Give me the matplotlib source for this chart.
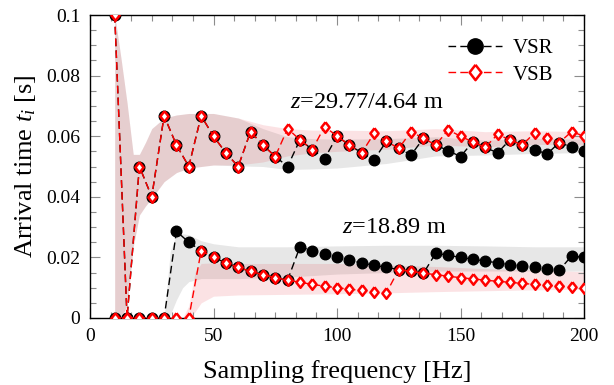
import matplotlib
matplotlib.use("Agg")
import matplotlib.pyplot as plt
import numpy as np
from matplotlib.ticker import MultipleLocator, FixedLocator

plt.rcParams['font.family'] = ['Liberation Serif', 'DejaVu Serif']
plt.rcParams['mathtext.fontset'] = 'custom'
plt.rcParams['mathtext.rm'] = 'Liberation Serif'
plt.rcParams['mathtext.it'] = 'Liberation Serif:italic'

# ---------------- data ----------------
freq = [10, 15, 20, 25, 30, 35, 40, 45, 50, 55, 60, 65, 70, 75, 80, 85, 90, 95, 100,
        105, 110, 115, 120, 125, 130, 135, 140, 145, 150, 155, 160, 165, 170, 175,
        180, 185, 190, 195, 200]

# upper group  (z = 29.77 / 4.64 m)
vsr_up = [0.1, 0.0, 0.05, 0.04, 0.0667, 0.0571, 0.05, 0.0667, 0.06, 0.0545, 0.05,
          0.0615, 0.0571, 0.0533, 0.05, 0.0588, 0.0556, 0.0526, 0.06, 0.0571, 0.0545,
          0.0522, 0.0583, 0.056, 0.0538, 0.0593, 0.0571, 0.0552, 0.0533, 0.0581,
          0.0563, 0.0545, 0.0588, 0.0571, 0.0556, 0.0541, 0.0579, 0.0564, 0.055]
vsb_up = [0.1, 0.0, 0.05, 0.04, 0.0667, 0.0571, 0.05, 0.0667, 0.06, 0.0545, 0.05,
          0.0615, 0.0571, 0.0533, 0.0625, 0.0588, 0.0556, 0.0632, 0.06, 0.0571, 0.0545,
          0.0609, 0.0583, 0.056, 0.0615, 0.0593, 0.0571, 0.0621, 0.06, 0.0581,
          0.0563, 0.0606, 0.0588, 0.0571, 0.0611, 0.0595, 0.0579, 0.0615, 0.06]

# lower group  (z = 18.89 m)
vsr_lo = [0.0, 0.0, 0.0, 0.0, 0.0, 0.0286, 0.025, 0.0222, 0.02, 0.0182, 0.0167,
          0.0154, 0.0143, 0.0133, 0.0125, 0.0235, 0.0222, 0.0211, 0.02, 0.019, 0.0182,
          0.0174, 0.0167, 0.016, 0.0154, 0.0148, 0.0214, 0.0207, 0.02, 0.0194,
          0.0188, 0.0182, 0.0176, 0.0171, 0.0167, 0.0162, 0.0158, 0.0205, 0.02]
vsb_lo = [0.0, 0.0, 0.0, 0.0, 0.0, 0.0, 0.0, 0.0222, 0.02, 0.0182, 0.0167,
          0.0154, 0.0143, 0.0133, 0.0125, 0.0118, 0.0111, 0.0105, 0.01, 0.0095, 0.0091,
          0.0087, 0.0083, 0.016, 0.0154, 0.0148, 0.0143, 0.0138, 0.0133, 0.0129,
          0.0125, 0.0121, 0.0118, 0.0114, 0.0111, 0.0108, 0.0105, 0.0103, 0.01]

# shaded bands
band_f = [10, 12.5, 15, 17.5, 20, 22.5, 25, 30, 35, 40, 50, 60, 70, 80, 90, 100,
          120, 140, 160, 180, 200]
vsb_up_hi = [0.1, 0.086, 0.071, 0.054, 0.054, 0.058, 0.0625, 0.066, 0.067, 0.0675,
             0.0675, 0.066, 0.0638, 0.0625, 0.062, 0.062, 0.0618, 0.0625, 0.0615,
             0.0618, 0.0615]
vsb_up_lo = [0.0, 0.0, 0.004, 0.0235, 0.034, 0.037, 0.0395, 0.045, 0.048, 0.0495,
             0.0505, 0.0505, 0.0515, 0.0535, 0.0545, 0.055, 0.0557, 0.0571, 0.0565,
             0.0573, 0.0571]
vsr_up_hi = [0.1, 0.086, 0.071, 0.054, 0.054, 0.058, 0.0625, 0.066, 0.067, 0.0675,
             0.0675, 0.066, 0.0625, 0.0598, 0.0592, 0.059, 0.0592, 0.0598, 0.0587,
             0.0593, 0.059]
vsr_up_lo = [0.0, 0.0, 0.004, 0.0235, 0.034, 0.037, 0.0395, 0.045, 0.048, 0.0495,
             0.0505, 0.0502, 0.05, 0.049, 0.0492, 0.0495, 0.051, 0.0535, 0.0538,
             0.0543, 0.0546]

band_f_lo = [30, 32.5, 35, 37.5, 40, 42.5, 45, 50, 60, 80, 100, 120, 140, 160, 180, 200]
vsr_lo_hi = [0.0, 0.022, 0.0275, 0.0278, 0.0275, 0.0265, 0.0255, 0.0245, 0.0235,
             0.0235, 0.0238, 0.024, 0.024, 0.0238, 0.0235, 0.0235]
vsr_lo_lo = [0.0, 0.001, 0.006, 0.010, 0.012, 0.0125, 0.013, 0.013, 0.013, 0.0135,
             0.0145, 0.015, 0.0155, 0.0155, 0.0155, 0.0155]
vsb_lo_hi = [0.0, 0.0, 0.0, 0.0, 0.004, 0.015, 0.018, 0.0182, 0.018, 0.018, 0.018,
             0.0175, 0.017, 0.0163, 0.0158, 0.0153]
vsb_lo_lo = [0.0, 0.0, 0.0, 0.0, 0.0, 0.002, 0.005, 0.0072, 0.0076, 0.0078, 0.008,
             0.0083, 0.0087, 0.009, 0.0093, 0.0095]

xticks = [0, 50, 100, 150, 200]
yticks = [0, 0.02, 0.04, 0.06, 0.08, 0.1]
ytick_labels = ['0', '0.02', '0.04', '0.06', '0.08', '0.1']
series_labels = ['VSR', 'VSB']
annot_up = '$z$=29.77/4.64 m'
annot_lo = '$z$=18.89 m'

# ---------------- figure ----------------
fig = plt.figure(figsize=(6.14, 3.85), dpi=100)
ax = fig.add_axes([90 / 614, 1 - 318 / 385, (584 - 90) / 614, (318 - 15) / 385])

gray_c = (0.45, 0.45, 0.45)
gray_a = 0.17
pink_c = (0.9, 0.15, 0.2)
pink_a = 0.13

ax.fill_between(band_f, vsr_up_lo, vsr_up_hi, color=gray_c, alpha=gray_a, lw=0, zorder=1)
ax.fill_between(band_f, vsb_up_lo, vsb_up_hi, color=pink_c, alpha=pink_a, lw=0, zorder=1)
ax.fill_between(band_f_lo, vsr_lo_lo, vsr_lo_hi, color=gray_c, alpha=gray_a, lw=0, zorder=1)
ax.fill_between(band_f_lo, vsb_lo_lo, vsb_lo_hi, color=pink_c, alpha=pink_a, lw=0, zorder=1)

diamond = [(0, 1), (0.78, 0), (0, -1), (-0.78, 0), (0, 1)]
dash = (5.5, 3.0)

line_kw_r = dict(color='black', lw=1.0, dashes=dash, marker='o', ms=7.6,
                 mfc='black', mec='black', zorder=3)
line_kw_b = dict(color='red', lw=1.0, dashes=dash, marker=diamond, ms=7.6,
                 mfc='white', mec='red', mew=1.8, zorder=4)

l1, = ax.plot(freq, vsr_up, label=series_labels[0], **line_kw_r)
l2, = ax.plot(freq, vsb_up, label=series_labels[1], **line_kw_b)
ax.plot(freq, vsr_lo, **line_kw_r)
ax.plot(freq, vsb_lo, **line_kw_b)

ax.set_xlim(0, 200)
ax.set_ylim(0, 0.1)
ax.xaxis.set_major_locator(FixedLocator(xticks))
ax.xaxis.set_minor_locator(MultipleLocator(50 / 6))
ax.yaxis.set_major_locator(FixedLocator(yticks))
ax.yaxis.set_minor_locator(MultipleLocator(0.005))
ax.set_yticklabels(ytick_labels)
ax.tick_params(which='both', direction='in', top=True, right=True, color='#8c8c8c',
               labelsize=14)
ax.tick_params(axis='x', which='both', pad=7)
ax.tick_params(axis='y', which='both', pad=7)
ax.tick_params(which='major', length=7, width=0.8)
ax.tick_params(which='minor', length=4.5, width=0.8)
for s in ax.spines.values():
    s.set_linewidth(1.0)
    s.set_color('black')

ax.set_xlabel('Sampling frequency [Hz]', fontsize=19, labelpad=11)
ax.set_ylabel('Arrival time $t_i$ [s]', fontsize=19, labelpad=6)

ax.text(81, 0.071, annot_up, fontsize=17.5, va='center', ha='left')
ax.text(102, 0.030, annot_lo, fontsize=17.5, va='center', ha='left')

leg = ax.legend(handles=[l1, l2], loc='upper right', bbox_to_anchor=(0.975, 0.985),
                frameon=False, fontsize=15, markerscale=1.45, handlelength=2.6,
                handletextpad=0.5, labelspacing=0.35)

fig.savefig('out.png', dpi=100)
